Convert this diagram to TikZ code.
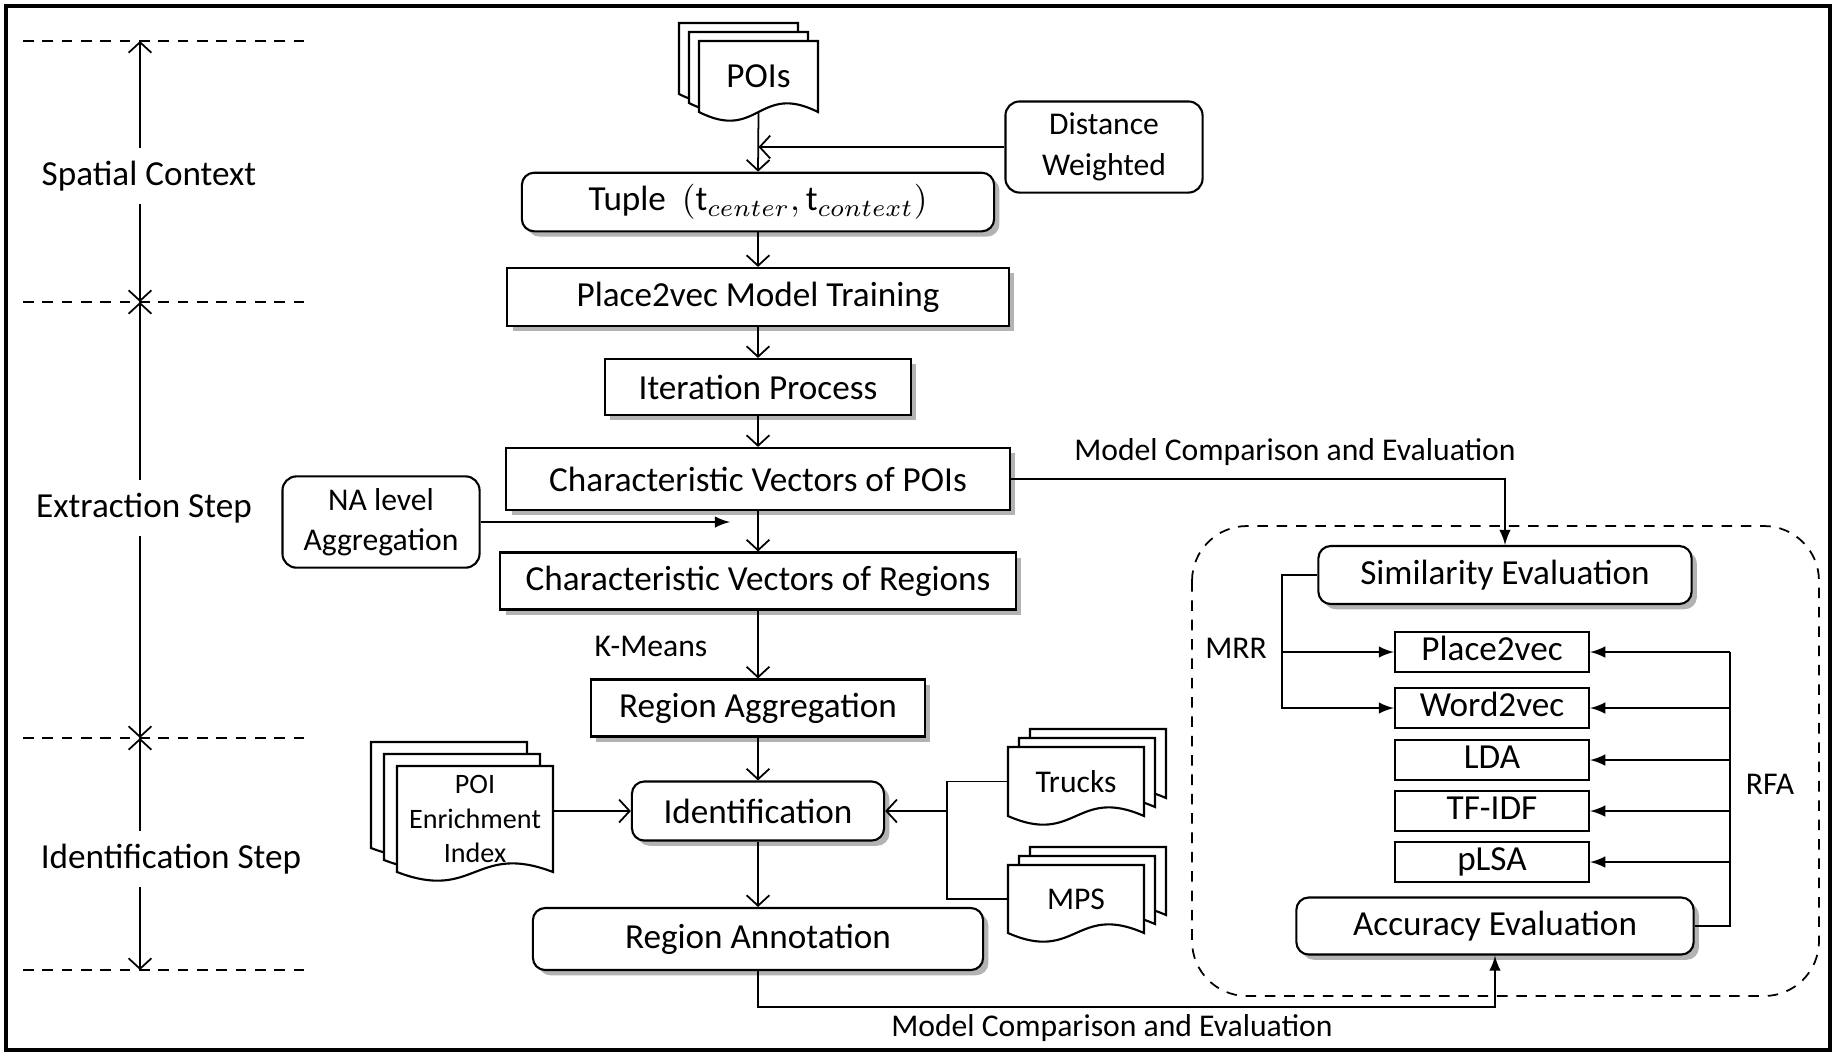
\documentclass[tikz,border=0pt]{standalone}
\usepackage{fontspec}
\setmainfont{Carlito}
\usetikzlibrary{shadows,arrows.meta}

\newcommand{\docstack}[9]{%
	\foreach \k in {2,1,0}
		\filldraw[fill=white,line width=0.6pt,shift={(\k*#6,\k*#7)}] (#2,#3) -- ++(#4,0) -- ++(0,#5-10)
			.. controls +(-0.5*#4,-30) and +(0.5*#4,30) .. (#2,#3+#5-10) -- cycle;
	\node[align=center,font=#8,minimum width=#4*0.01cm,minimum height=(#5-10)*0.01cm] (#1) at (#2+0.5*#4,#3+0.5*#5-5) {#9};
}

\begin{document}
\begin{tikzpicture}[x=0.01cm,y=-0.01cm,line width=0.5pt,
	font=\fontsize{10}{12}\selectfont,
	>={Straight Barb[length=3pt,width=6.5pt]},
	box/.style={draw,fill=white,line width=0.6pt,drop shadow={shadow xshift=1.5pt,shadow yshift=-1.5pt,opacity=0.6}},
	rbox/.style={box,rounded corners=3.5pt},
	srcbox/.style={draw,fill=white,line width=0.6pt,rounded corners=4pt,align=center,font=\fontsize{9}{11.5}\selectfont},
	model/.style={draw,line width=0.6pt,inner ysep=1pt,text height=7pt,text depth=2pt,minimum width=1.94cm,minimum height=0.4cm},
	lbl/.style={font=\fontsize{9}{11}\selectfont},
	phase/.style={minimum height=0.55cm},
	stepline/.style={dash pattern=on 3pt off 2.5pt}]

	\def\midx{758}

	\useasboundingbox (0,0) rectangle (1836,1056);
	\draw[line width=0.9pt] (6,6) rectangle (1830,1050);

	\foreach \lv/\ly in {1/41,2/302,3/738,4/970} {
		\coordinate (lv\lv) at (140,\ly);
		\draw[stepline] (23,\ly) -- (305,\ly);
	}
	\node[phase] (sc) at (149,176) {Spatial Context};
	\node[phase] (ex) at (144,508) {Extraction Step};
	\node[phase] (id) at (171,859) {Identification Step};
	\draw[->] (lv1 |- sc.north) -- (lv1);
	\draw[->] (lv2 |- sc.south) -- (lv2);
	\draw[->] (lv2 |- ex.north) -- (lv2);
	\draw[->] (lv3 |- ex.south) -- (lv3);
	\draw[->] (lv3 |- id.north) -- (lv3);
	\draw[->] (lv4 |- id.south) -- (lv4);

	\docstack{pois}{699}{41}{119}{81}{-10}{-9}{\fontsize{10}{12}\selectfont}{POIs}
	\node[srcbox,minimum width=1.97cm,minimum height=0.80cm] (dist) at (1104,147) {Distance\\Weighted};
	\node[rbox,minimum width=4.72cm,minimum height=0.58cm] (tuple) at (\midx,202) {Tuple\ \ $(\mathrm{t}_{center},\mathrm{t}_{context})$};
	\node[box,minimum width=5.01cm,minimum height=0.58cm] (train) at (\midx,297) {Place2vec Model Training};
	\node[box,minimum width=3.06cm,minimum height=0.56cm] (iter) at (\midx,387) {Iteration Process};
	\node[box,minimum width=5.03cm,minimum height=0.62cm] (cvpoi) at (\midx,479) {Characteristic Vectors of POIs};
	\node[srcbox,minimum width=1.97cm,minimum height=0.81cm] (na) at (381,522) {NA level\\Aggregation};
	\node[box,minimum width=5.15cm,minimum height=0.57cm] (cvreg) at (\midx,581) {Characteristic Vectors of Regions};
	\node[lbl] (kmeans) at (651,646) {K-Means};
	\node[box,minimum width=3.34cm,minimum height=0.57cm] (regagg) at (\midx,708) {Region Aggregation};
	\node[rbox,minimum width=2.52cm,minimum height=0.59cm] (ident) at (\midx,811) {Identification};
	\node[rbox,minimum width=4.50cm,minimum height=0.62cm] (regann) at (\midx,939) {Region Annotation};

	\docstack{enrich}{397}{766}{156}{116}{-13}{-12}{\fontsize{8}{9.7}\selectfont}{POI\\Enrichment\\Index}
	\docstack{trucks}{1008}{747}{136}{79}{11}{-9}{\fontsize{9}{11}\selectfont}{Trucks}
	\docstack{mps}{1008}{865}{136}{78}{11}{-9}{\fontsize{9}{11}\selectfont}{MPS}

	\draw[stepline,rounded corners=0.55cm] (1192,526) rectangle (1819,996);
	\node[rbox,minimum width=3.73cm,minimum height=0.58cm] (simeval) at (1505,575) {Similarity Evaluation};
	\node[model] (p2v) at (1492,652) {Place2vec};
	\node[model] (w2v) at (1492,708) {Word2vec};
	\node[model] (lda) at (1492,760) {LDA};
	\node[model] (tfidf) at (1492,811) {TF-IDF};
	\node[model] (plsa) at (1492,862) {pLSA};
	\node[rbox,minimum width=3.97cm,minimum height=0.57cm] (acceval) at (1495,926) {Accuracy Evaluation};

	\coordinate (dwjoin) at (pois.south |- dist.west);
	\path[->] (pois.south) edge (tuple.north);
	\draw[->] (dist.west) -- (dwjoin);
	\path[->] (tuple) edge (train);
	\path[->] (train) edge (iter);
	\path[->] (iter) edge (cvpoi);
	\path[->] (cvpoi) edge (cvreg);
	\path[->] (cvreg) edge (regagg);
	\path[->] (regagg) edge (ident);
	\path[->] (ident) edge (regann);

	\coordinate (najoin) at (730,522);
	\draw[-latex] (na.east) -- (najoin);

	\path[->] (enrich.east |- ident.west) edge (ident.west);
	\coordinate (bus) at (947,811);
	\draw (trucks.west) -| (bus) |- (mps.west);
	\draw[->] (bus) -- (ident.east);

	\draw[-latex] (cvpoi.east) -| (simeval.north);
	\node[lbl] (cmptop) at (1295,452) {Model Comparison and Evaluation};

	\coordinate (lowjoin) at (1495,1007);
	\draw[-latex] (regann.south) |- (lowjoin) -- (acceval.south);
	\node[lbl] (cmplow) at (1112,1028) {Model Comparison and Evaluation};

	\coordinate (mrrbus) at (1282,652);
	\draw[-latex] (simeval.west) -| (mrrbus) |- (w2v.west);
	\draw[-latex] (mrrbus) -- (p2v.west);
	\node[lbl] (mrr) at (1236,648) {MRR};

	\coordinate (rfabus) at (1730,652);
	\draw (acceval.east) -| (rfabus);
	\foreach \m in {p2v,w2v,lda,tfidf,plsa}
		\draw[-latex] (rfabus |- \m.east) -- (\m.east);
	\node[lbl] (rfa) at (1770,784) {RFA};

\end{tikzpicture}
\end{document}
